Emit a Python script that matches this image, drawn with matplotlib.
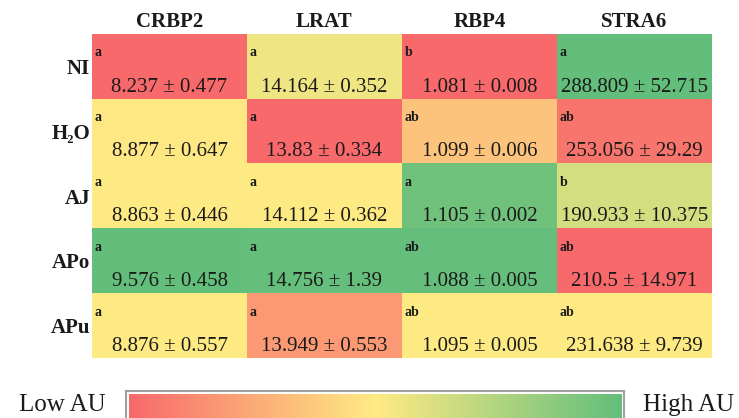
import numpy as np
import matplotlib
matplotlib.use("Agg")
import matplotlib.pyplot as plt
from matplotlib.colors import LinearSegmentedColormap

# ---- data ----
genes = ["CRBP2", "LRAT", "RBP4", "STRA6"]
groups = ["NI", "H₂O", "AJ", "APo", "APu"]

means = [
    [8.237, 14.164, 1.081, 288.809],
    [8.877, 13.83, 1.099, 253.056],
    [8.863, 14.112, 1.105, 190.933],
    [9.576, 14.756, 1.088, 210.5],
    [8.876, 13.949, 1.095, 231.638],
]
sds = [
    [0.477, 0.352, 0.008, 52.715],
    [0.647, 0.334, 0.006, 29.29],
    [0.446, 0.362, 0.002, 10.375],
    [0.458, 1.39, 0.005, 14.971],
    [0.557, 0.553, 0.005, 9.739],
]
letters = [
    ["a", "a", "b", "a"],
    ["a", "a", "ab", "ab"],
    ["a", "a", "a", "b"],
    ["a", "a", "ab", "ab"],
    ["a", "a", "ab", "ab"],
]
# colour level of each cell (0 = low AU, 1 = high AU)
levels = [
    [0.00, 0.55, 0.00, 1.00],
    [0.49, 0.00, 0.35, 0.05],
    [0.50, 0.50, 0.96, 0.64],
    [1.00, 0.99, 0.99, 0.00],
    [0.50, 0.19, 0.50, 0.50],
]

serif = ["Liberation Serif", "DejaVu Serif"]
plt.rcParams["font.family"] = serif
txt = "#1a1a1a"

cmap = LinearSegmentedColormap.from_list("au", ["#F8696B", "#FFEB84", "#63BE7B"])

W, H = 739, 418
fig = plt.figure(figsize=(W / 100, H / 100), dpi=100)

# main grid
ax = fig.add_axes([92 / W, 1 - 358 / H, (712 - 92) / W, (358 - 34) / H])
ax.imshow(np.array(levels), cmap=cmap, vmin=0, vmax=1, aspect="auto",
          interpolation="nearest")
ax.set_xlim(-0.5, len(genes) - 0.5)
ax.set_ylim(len(groups) - 0.5, -0.5)
ax.set_xticks([])
ax.set_yticks([])
for s in ax.spines.values():
    s.set_visible(False)

for j, g in enumerate(genes):
    ax.text(j, -0.69, g, ha="center", va="center", fontsize=15,
            fontweight="bold", color=txt, clip_on=False)

for i, g in enumerate(groups):
    ax.text(-0.513, i + 0.04, g, ha="right", va="center", fontsize=15,
            fontweight="bold", color=txt, clip_on=False)
    for j in range(len(genes)):
        ax.text(j - 0.485, i - 0.155, letters[i][j], ha="left", va="baseline",
                fontsize=10, fontweight="bold", color=txt)
        ax.text(j, i + 0.39, f"{means[i][j]} ± {sds[i][j]}", ha="center",
                va="baseline", fontsize=15, color=txt)

# colour scale bar
cb = fig.add_axes([126 / W, -0.03, (624 - 126) / W, 0.03 + 1 - 391 / H])
grad = np.linspace(0, 1, 256).reshape(1, -1)
cb.imshow(grad, cmap=cmap, aspect="auto", extent=(0.006, 0.994, 0.0, 0.92))
cb.set_xlim(0, 1)
cb.set_ylim(0, 1)
cb.set_xticks([])
cb.set_yticks([])
for s in cb.spines.values():
    s.set_color("#a0a0a0")
    s.set_linewidth(1.5)

fig.text(62 / W, 1 - 405 / H, "Low AU", ha="center", va="center",
         fontsize=18, color=txt)
fig.text(689 / W, 1 - 405 / H, "High AU", ha="center", va="center",
         fontsize=18, color=txt)

fig.savefig("out.png", dpi=100)
